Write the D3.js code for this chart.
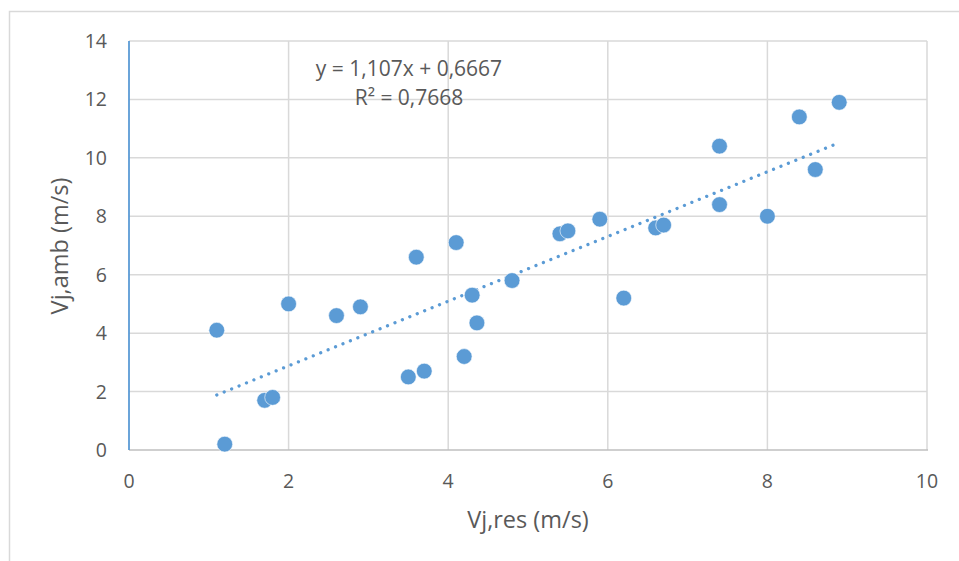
<!DOCTYPE html>
<html><head><meta charset="utf-8">
<script src="https://cdn.jsdelivr.net/npm/d3@7"></script>
<style>body{margin:0;background:#fff}svg{display:block}text{font-family:"Open Sans",sans-serif;fill:#595959}</style>
</head><body><svg id="c" width="959" height="561"></svg>
<script>
const xValues = [1.1,1.2,1.7,1.8,2.0,2.6,2.9,3.5,3.6,3.7,4.1,4.2,4.3,4.36,4.8,5.4,5.5,5.9,6.2,6.6,6.7,7.4,7.4,8.0,8.4,8.6,8.9];
const yValues = [4.1,0.2,1.7,1.8,5.0,4.6,4.9,2.5,6.6,2.7,7.1,3.2,5.3,4.35,5.8,7.4,7.5,7.9,5.2,7.6,7.7,10.4,8.4,8.0,11.4,9.6,11.9];
const xTicks = [0,2,4,6,8,10];
const yTicks = [0,2,4,6,8,10,12,14];
const slope = 1.107, intercept = 0.6667;
const trendLabel = "y = 1,107x + 0,6667";
const r2Label = "R² = 0,7668";
const xTitle = "Vj,res (m/s)", yTitle = "Vj,amb (m/s)";

const svg = d3.select("#c");
const x = d3.scaleLinear().domain([0,10]).range([129,927]);
const y = d3.scaleLinear().domain([0,14]).range([450,41]);

// outer chart border
svg.append("path").attr("d","M9.5,561V11.5H959").attr("fill","none").attr("stroke","#d9d9d9").attr("stroke-width",1.5);

// gridlines
const g = svg.append("g");
g.selectAll(".hg").data(yTicks.filter(d=>d>0)).join("line")
  .attr("x1",x(0)).attr("x2",x(10)).attr("y1",d=>y(d)).attr("y2",d=>y(d))
  .attr("stroke","#d9d9d9").attr("stroke-width",1.5);
g.selectAll(".vg").data(xTicks.filter(d=>d>0)).join("line")
  .attr("y1",y(0)).attr("y2",y(14)).attr("x1",d=>x(d)).attr("x2",d=>x(d))
  .attr("stroke","#d9d9d9").attr("stroke-width",1.5);
// x axis line
svg.append("line").attr("x1",x(0)).attr("x2",x(10)+1).attr("y1",y(0)).attr("y2",y(0)).attr("stroke","#bfbfbf").attr("stroke-width",1.5);
// y axis line (blue)
svg.append("line").attr("x1",x(0)).attr("x2",x(0)).attr("y1",y(0)).attr("y2",y(14)).attr("stroke","#5B9BD5").attr("stroke-width",1.8);

// tick labels
svg.selectAll(".yt").data(yTicks).join("text")
  .attr("x",107).attr("y",d=>y(d)).attr("dy","0.36em").attr("text-anchor","end")
  .attr("font-size",19.5).text(d=>d);
svg.selectAll(".xt").data(xTicks).join("text")
  .attr("x",d=>x(d)).attr("y",488).attr("text-anchor","middle")
  .attr("font-size",19.5).text(d=>d);

// axis titles
svg.append("text").attr("x",528).attr("y",528).attr("text-anchor","middle").attr("font-size",23.5).text(xTitle);
svg.append("text").attr("transform","translate(68,246) rotate(-90)").attr("text-anchor","middle").attr("font-size",23.5).text(yTitle);

// trendline
const xmin = d3.min(xValues), xmax = d3.max(xValues);
svg.append("line")
  .attr("x1",x(xmin)).attr("y1",y(slope*xmin+intercept))
  .attr("x2",x(xmax)).attr("y2",y(slope*xmax+intercept))
  .attr("stroke","#5B9BD5").attr("stroke-width",3.3)
  .attr("stroke-linecap","round").attr("stroke-dasharray","0.01 8");

// points
svg.selectAll(".pt").data(xValues.map((v,i)=>[v,yValues[i]])).join("circle")
  .attr("cx",d=>x(d[0])).attr("cy",d=>y(d[1])).attr("r",7.9)
  .attr("fill","#5B9BD5").attr("stroke","#fff").attr("stroke-width",0.6);

// trend label
svg.append("text").attr("x",409).attr("y",76).attr("text-anchor","middle").attr("font-size",21).text(trendLabel);
svg.append("text").attr("x",409).attr("y",105).attr("text-anchor","middle").attr("font-size",21).text(r2Label);
</script></body></html>
